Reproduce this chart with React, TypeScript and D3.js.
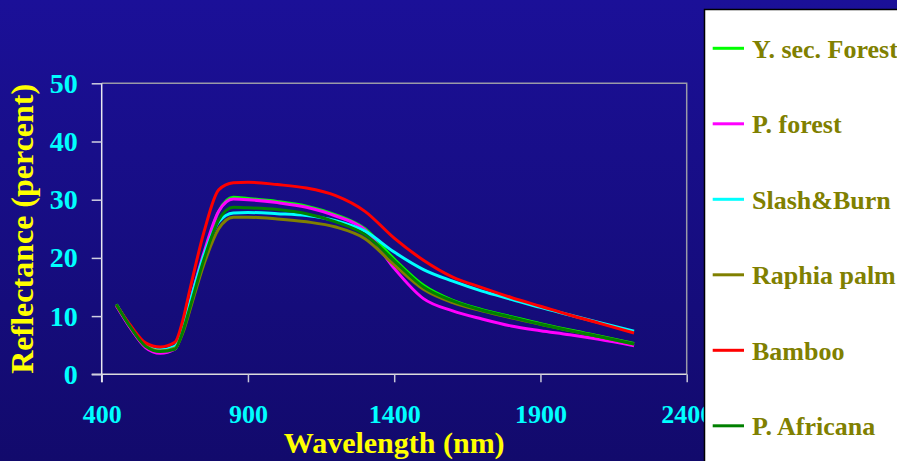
import React, { useRef, useEffect } from "react";
import { select, scaleLinear, axisBottom, axisLeft, line, curveMonotoneX } from "d3";

// wavelength samples (nm)
const wavelengths = [450, 500, 550, 600, 650, 680, 700, 750, 800, 850, 900, 1000, 1100, 1200, 1300, 1400, 1500, 1600, 1700, 1800, 1900, 2000, 2100, 2220];

// reflectance (percent)
const ySecForest = [12, 8.0, 4.8, 3.9, 4.4, 8.0, 11.5, 20.5, 28.0, 30.4, 30.2, 29.7, 28.9, 27.4, 25.0, 19.8, 15.3, 12.7, 11.1, 9.9, 8.7, 7.6, 6.6, 5.3];
const pForest = [11.8, 7.8, 4.6, 3.6, 4.3, 8.2, 12.0, 21.0, 28.0, 30.1, 30.0, 29.5, 28.7, 27.2, 24.8, 18.2, 13.0, 10.9, 9.5, 8.3, 7.5, 6.8, 6.0, 4.9];
const slashBurn = [12, 8.1, 5.0, 4.2, 4.8, 8.5, 12.0, 20.5, 26.2, 27.7, 27.8, 27.6, 27.3, 26.4, 24.6, 21.0, 18.0, 16.0, 14.3, 12.9, 11.5, 10.2, 8.9, 7.4];
const raphiaPalm = [12, 8.0, 4.9, 4.0, 4.5, 7.5, 10.8, 19.0, 25.0, 27.0, 27.0, 26.7, 26.2, 25.3, 23.3, 18.8, 14.6, 12.3, 10.9, 9.7, 8.6, 7.5, 6.5, 5.2];
const bamboo = [11.9, 8.3, 5.4, 4.7, 5.5, 9.8, 14.2, 24.5, 31.7, 32.9, 33.0, 32.6, 32.0, 30.7, 28.0, 23.4, 19.6, 16.7, 14.9, 13.2, 11.7, 10.2, 8.8, 7.1];
const pAfricana = [12, 8.0, 4.8, 3.9, 4.3, 7.8, 11.2, 19.8, 26.5, 28.7, 28.6, 28.3, 27.6, 26.2, 24.0, 19.5, 15.0, 12.6, 11.0, 9.8, 8.6, 7.5, 6.5, 5.2];

const seriesNames = ["Y. sec. Forest", "P. forest", "Slash&Burn", "Raphia palm", "Bamboo", "P. Africana"];
const seriesValues = [ySecForest, pForest, slashBurn, raphiaPalm, bamboo, pAfricana];
const seriesColors = ["#00ff00", "#ff00ff", "#00ffff", "#808000", "#ff0000", "#008000"];

const xTicks = [400, 900, 1400, 1900, 2400];
const yTicks = [0, 10, 20, 30, 40, 50];

const App = () => {
    const svgRef = useRef(null);
    const width = 897;
    const height = 461;
    const plot = { left: 101.7, right: 686.7, top: 83.3, bottom: 374.3 };
    const font = "'Liberation Serif', 'Times New Roman', serif";

    useEffect(() => {
        const svg = select(svgRef.current);
        svg.selectAll("*").remove();
        svg.attr("width", width).attr("height", height);

        const defs = svg.append("defs");
        const grad = defs.append("linearGradient").attr("id", "bg").attr("x1", 0).attr("y1", 0).attr("x2", 0).attr("y2", 1);
        grad.append("stop").attr("offset", "0%").attr("stop-color", "#1b1098");
        grad.append("stop").attr("offset", "100%").attr("stop-color", "#120a6c");
        svg.append("rect").attr("width", width).attr("height", height).attr("fill", "url(#bg)");

        const xScale = scaleLinear().domain([400, 2400]).range([plot.left, plot.right]);
        const yScale = scaleLinear().domain([0, 50]).range([plot.bottom, plot.top]);

        // plot frame (top + right)
        svg.append("path")
            .attr("d", `M${plot.left},${plot.top}H${plot.right}V${plot.bottom}`)
            .attr("fill", "none").attr("stroke", "#9a9aa8").attr("stroke-width", 1.5);

        const xAxis = axisBottom(xScale).tickValues(xTicks).tickSizeInner(8).tickSizeOuter(0).tickPadding(22).tickFormat((d) => String(d));
        const gx = svg.append("g").attr("transform", "translate(0," + plot.bottom + ")").call(xAxis);
        gx.select(".domain").attr("stroke", "#dcdcdc").attr("stroke-width", 1.5).attr("d", `M${plot.left - 10},0H${plot.right}`);
        gx.selectAll(".tick line").attr("stroke", "#c8c8d8").attr("stroke-width", 1.5);
        gx.selectAll(".tick text").attr("fill", "#00ffff").style("font-family", font).style("font-weight", "bold").style("font-size", "26px");

        const yAxis = axisLeft(yScale).tickValues(yTicks).tickSizeInner(10).tickSizeOuter(0).tickPadding(14).tickFormat((d) => String(d));
        const gy = svg.append("g").attr("transform", "translate(" + plot.left + ",0)").call(yAxis);
        gy.select(".domain").attr("stroke", "#e8e8f0").attr("stroke-width", 1.5).attr("d", `M0,${plot.top}V${plot.bottom + 8}`);
        gy.selectAll(".tick line").attr("stroke", "#d0d0e0").attr("stroke-width", 1.5);
        gy.selectAll(".tick text").attr("fill", "#00ffff").style("font-family", font).style("font-weight", "bold").style("font-size", "28px");

        const myLine = line()
            .x((d, i) => xScale(wavelengths[i]))
            .y((d) => yScale(d))
            .curve(curveMonotoneX);

        svg.selectAll(".line")
            .data(seriesValues)
            .enter()
            .append("path")
            .attr("class", "line")
            .attr("d", (d) => myLine(d))
            .attr("fill", "none")
            .attr("stroke", (d, i) => seriesColors[i])
            .attr("stroke-width", 3)
            .attr("stroke-linejoin", "round");

        // axis titles
        svg.append("text")
            .attr("x", (plot.left + plot.right) / 2).attr("y", 453)
            .attr("text-anchor", "middle")
            .attr("fill", "#ffff00")
            .style("font-family", font).style("font-weight", "bold").style("font-size", "30px")
            .text("Wavelength (nm)");

        svg.append("text")
            .attr("transform", "translate(33," + (plot.top + plot.bottom) / 2 + ") rotate(-90)")
            .attr("text-anchor", "middle")
            .attr("fill", "#ffff00")
            .style("font-family", font).style("font-weight", "bold").style("font-size", "32px")
            .text("Reflectance (percent)");

        // legend box
        svg.append("rect")
            .attr("x", 704.5).attr("y", 9.5).attr("width", 200).attr("height", 460)
            .attr("fill", "#ffffff").attr("stroke", "#000000").attr("stroke-width", 1.5);

        const legend = svg.selectAll(".legend")
            .data(seriesNames)
            .enter()
            .append("g")
            .attr("class", "legend")
            .attr("transform", (d, i) => "translate(0," + (48.3 + i * 75.5) + ")");
        legend.append("line")
            .attr("x1", 712.7).attr("x2", 744)
            .attr("stroke", (d, i) => seriesColors[i]).attr("stroke-width", 3);
        legend.append("text")
            .attr("x", 752).attr("y", 9.3)
            .attr("fill", "#808000")
            .style("font-family", font).style("font-weight", "bold").style("font-size", "26px")
            .text((d) => d);
    }, []);

    return (
        <div style={{ position: "absolute", left: 0, top: 0 }}>
            <svg ref={svgRef} style={{ display: "block" }}></svg>
        </div>
    );
};

export default App;
